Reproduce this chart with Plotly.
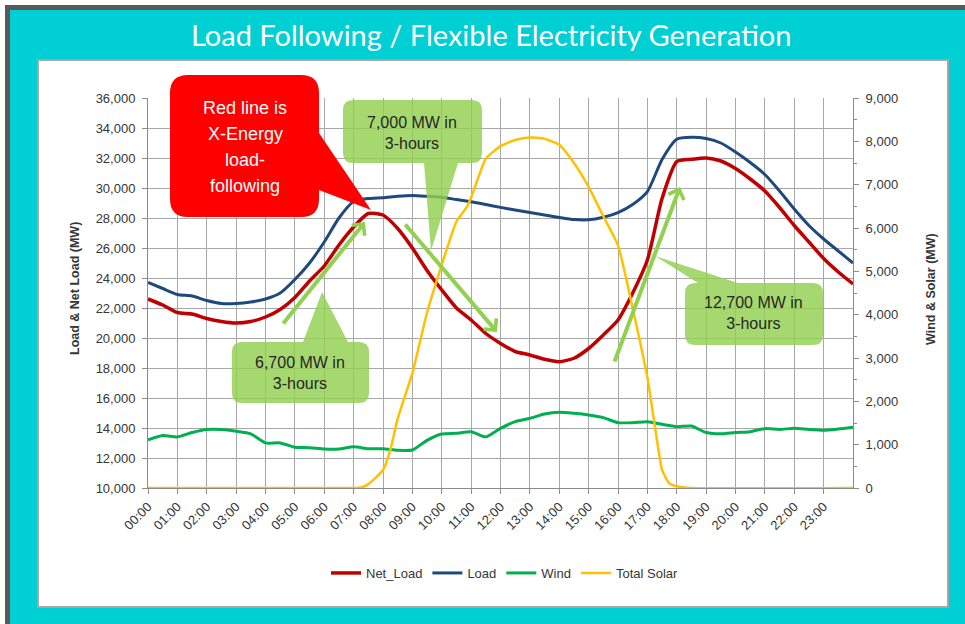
import plotly.graph_objects as go

# ---------------- data ----------------
hour_ticks = list(range(24))
hour_labels = ["00:00", "01:00", "02:00", "03:00", "04:00", "05:00", "06:00", "07:00",
               "08:00", "09:00", "10:00", "11:00", "12:00", "13:00", "14:00", "15:00",
               "16:00", "17:00", "18:00", "19:00", "20:00", "21:00", "22:00", "23:00"]

times = [i / 2 for i in range(49)]  # half-hourly samples, 00:00 .. 24:00

net_load = [22600, 22200, 21700, 21600, 21300, 21100, 21000, 21100, 21400, 21900,
            22700, 23800, 24800, 26200, 27400, 28300, 28200, 27300, 26000, 24500,
            23200, 22000, 21200, 20300, 19640, 19100, 18870, 18580, 18420, 18650,
            19300, 20200, 21200, 23000, 25200, 29300, 31760, 31910, 32000, 31800,
            31300, 30600, 29800, 28700, 27500, 26400, 25300, 24400, 23600]

load = [23700, 23300, 22900, 22800, 22500, 22300, 22300, 22400, 22600, 23000,
        23900, 25000, 26400, 28000, 29100, 29300, 29350, 29450, 29500, 29450,
        29380, 29230, 29090, 28900, 28710, 28530, 28360, 28200, 28040, 27900,
        27880, 28050, 28360, 28900, 29760, 31900, 33250, 33380, 33300, 33000,
        32400, 31700, 30900, 29800, 28600, 27500, 26600, 25800, 25000]

wind = [1110, 1210, 1180, 1280, 1350, 1350, 1310, 1250, 1040, 1040,
        940, 930, 900, 900, 950, 905, 905, 870, 877, 1100,
        1246, 1262, 1300, 1180, 1377, 1530, 1608, 1708, 1746, 1723,
        1685, 1623, 1508, 1508, 1531, 1470, 1416, 1430, 1280, 1250,
        1280, 1300, 1370, 1350, 1380, 1350, 1330, 1360, 1400]

solar_hours = [0, 7.0, 7.25, 7.5, 8.0, 8.25, 8.5, 9.0, 9.5, 10.0, 10.5, 10.85, 11.0,
               11.5, 12.0, 12.5, 13.0, 13.5, 14.0, 14.5, 15.0, 15.5, 16.0, 16.5,
               17.0, 17.25, 17.5, 17.75, 18.0, 18.5, 24.0]
solar = [0, 0, 10, 90, 415, 880, 1600, 2650, 4050, 5150, 6150, 6480, 6700,
         7600, 7890, 8030, 8090, 8060, 7920, 7500, 6950, 6270, 5600, 4150,
         2550, 1450, 420, 100, 40, 0, 0]

series_names = ["Net_Load", "Load", "Wind", "Total Solar"]
series_colors = ["#c00000", "#1f497d", "#00b050", "#ffc000"]

title_text = "Load Following / Flexible Electricity Generation"
left_title = "<b>Load & Net Load (MW)</b>"
right_title = "<b>Wind & Solar (MW)</b>"
red_note = ["Red line is", "X-Energy", "load-", "following"]
notes = ["7,000 MW in<br>3-hours", "6,700 MW in<br>3-hours", "12,700 MW in<br>3-hours"]

# ---------------- geometry helpers (pixel -> paper) ----------------
W, H = 965, 624
PL, PR, PT, PB = 148, 853, 98, 488


def X(p):
    return (p - PL) / (PR - PL)


def Y(p):
    return (PB - p) / (PB - PT)


def callout_path(x0, y0, x1, y1, r, side=None, b0=None, b1=None, tip=None):
    pts = []

    def P(cmd, *xy):
        coords = []
        for i in range(0, len(xy), 2):
            coords.append(f"{X(xy[i]):.5f},{Y(xy[i + 1]):.5f}")
        pts.append(cmd + " ".join(coords))

    P("M", x0 + r, y0)
    if side == "top":
        P("L", b0, y0); P("L", tip[0], tip[1]); P("L", b1, y0)
    P("L", x1 - r, y0)
    P("Q", x1, y0, x1, y0 + r)
    if side == "right":
        P("L", x1, b0); P("L", tip[0], tip[1]); P("L", x1, b1)
    P("L", x1, y1 - r)
    P("Q", x1, y1, x1 - r, y1)
    if side == "bottom":
        P("L", b1, y1); P("L", tip[0], tip[1]); P("L", b0, y1)
    P("L", x0 + r, y1)
    P("Q", x0, y1, x0, y1 - r)
    P("L", x0, y0 + r)
    P("Q", x0, y0, x0 + r, y0)
    return " ".join(pts) + " Z"


FONT = "Liberation Sans, Arial, sans-serif"
GRID = "#a8a8a8"
AXIS = "#8c8c8c"
TXT = "#363636"

fig = go.Figure()
fig.add_trace(go.Scatter(x=times, y=net_load, name=series_names[0], mode="lines",
                         line=dict(color=series_colors[0], width=3.5, shape="spline", smoothing=0.6)))
fig.add_trace(go.Scatter(x=times, y=load, name=series_names[1], mode="lines",
                         line=dict(color=series_colors[1], width=3, shape="spline", smoothing=0.6)))
fig.add_trace(go.Scatter(x=times, y=wind, name=series_names[2], mode="lines", yaxis="y2",
                         line=dict(color=series_colors[2], width=3, shape="spline", smoothing=0.6)))
fig.add_trace(go.Scatter(x=solar_hours, y=solar, name=series_names[3], mode="lines", yaxis="y2",
                         cliponaxis=False,
                         line=dict(color=series_colors[3], width=2.5, shape="spline", smoothing=0.5)))

shapes = [
    dict(type="rect", xref="paper", yref="paper", x0=X(5), x1=X(970), y0=Y(5), y1=Y(630),
         fillcolor="#595959", line=dict(width=0), layer="below"),
    dict(type="rect", xref="paper", yref="paper", x0=X(10), x1=X(970), y0=Y(10), y1=Y(630),
         fillcolor="#00cfd4", line=dict(width=0), layer="below"),
    dict(type="rect", xref="paper", yref="paper", x0=X(38), x1=X(948), y0=Y(60), y1=Y(607),
         fillcolor="white", line=dict(color="#a6a6a6", width=2), layer="below"),
]

green_fill = "rgba(146,208,80,0.82)"
shapes.append(dict(type="path", xref="paper", yref="paper", layer="above",
                   path=callout_path(170, 75, 319, 217, 18, "right", 133, 190, (371, 210)),
                   fillcolor="#ff0000", line=dict(width=0)))
shapes.append(dict(type="path", xref="paper", yref="paper", layer="above",
                   path=callout_path(343, 100, 482, 163, 10, "bottom", 424, 458, (431, 251)),
                   fillcolor=green_fill, line=dict(width=0)))
shapes.append(dict(type="path", xref="paper", yref="paper", layer="above",
                   path=callout_path(232, 342, 369, 403, 10, "top", 303, 348, (322, 292)),
                   fillcolor=green_fill, line=dict(width=0)))
shapes.append(dict(type="path", xref="paper", yref="paper", layer="above",
                   path=callout_path(685, 283, 823, 345, 10, "top", 698, 738, (655, 256)),
                   fillcolor=green_fill, line=dict(width=0)))

annotations = [
    dict(text=title_text, x=X(491), y=Y(35), xref="paper", yref="paper", showarrow=False,
         font=dict(family="Lato, Open Sans, sans-serif", size=29, color="white"),
         xanchor="center", yanchor="middle"),
    dict(text=left_title, x=X(75), y=Y(289), xref="paper", yref="paper", showarrow=False,
         textangle=-90, font=dict(family=FONT, size=12.5, color=TXT), xanchor="center",
         yanchor="middle"),
    dict(text=right_title, x=X(931), y=Y(289), xref="paper", yref="paper", showarrow=False,
         textangle=-90, font=dict(family=FONT, size=12.5, color=TXT), xanchor="center",
         yanchor="middle"),
]
for txt, yy in zip(red_note, [108, 134, 160, 186]):
    annotations.append(dict(text=txt, x=X(245), y=Y(yy), xref="paper", yref="paper",
                            showarrow=False, font=dict(family=FONT, size=18, color="white"),
                            xanchor="center", yanchor="middle"))
for txt, (cx, cy) in zip(notes, [(412, 133), (300, 373), (753, 313)]):
    annotations.append(dict(text=txt, x=X(cx), y=Y(cy), xref="paper", yref="paper",
                            showarrow=False, font=dict(family=FONT, size=16, color="#262626"),
                            xanchor="center", yanchor="middle"))

for tail, head in [((282, 325), (365, 222)), ((404, 223), (497, 332)), ((614, 363), (680, 187))]:
    annotations.append(dict(text="", x=X(head[0]), y=Y(head[1]), xref="paper", yref="paper",
                            ax=tail[0] - head[0], ay=tail[1] - head[1], axref="pixel",
                            ayref="pixel", showarrow=True, arrowhead=4, arrowsize=0.8,
                            arrowwidth=4, arrowcolor="#92d050", standoff=0))

fig.update_layout(
    width=W, height=H,
    margin=dict(l=PL, r=W - PR, t=PT, b=H - PB),
    paper_bgcolor="white", plot_bgcolor="white",
    font=dict(family=FONT, color=TXT, size=13),
    showlegend=True,
    legend=dict(orientation="h", x=X(505), y=Y(573), xanchor="center", yanchor="middle",
                font=dict(family=FONT, size=13, color=TXT), bgcolor="rgba(0,0,0,0)",
                itemwidth=30, tracegroupgap=0),
    xaxis=dict(range=[0, 24], tickvals=hour_ticks, ticktext=hour_labels, tickangle=-45,
               showgrid=True, gridcolor=GRID, gridwidth=1, showline=True, linecolor=AXIS,
               ticks="outside", ticklen=5, tickcolor=AXIS, zeroline=False,
               tickfont=dict(size=13, color=TXT)),
    yaxis=dict(range=[10000, 36000], dtick=2000, tickformat=",", showgrid=True,
               gridcolor=GRID, showline=True, linecolor=AXIS, ticks="outside", ticklen=5,
               tickcolor=AXIS, zeroline=False, ticklabelstandoff=4,
               tickfont=dict(size=13, color=TXT)),
    yaxis2=dict(range=[0, 9000], dtick=1000, tickformat=",", overlaying="y", side="right",
                showgrid=False, showline=True, linecolor=AXIS, ticks="outside", ticklen=5,
                tickcolor=AXIS, zeroline=False, ticklabelstandoff=4,
                minor=dict(ticks="outside", dtick=500, ticklen=3, tickcolor=AXIS),
                tickfont=dict(size=13, color=TXT)),
    shapes=shapes,
    annotations=annotations,
)

fig.write_html("out.html", config={"displayModeBar": False},
               post_script="document.body.style.margin='0px';document.body.style.overflow='hidden';")
